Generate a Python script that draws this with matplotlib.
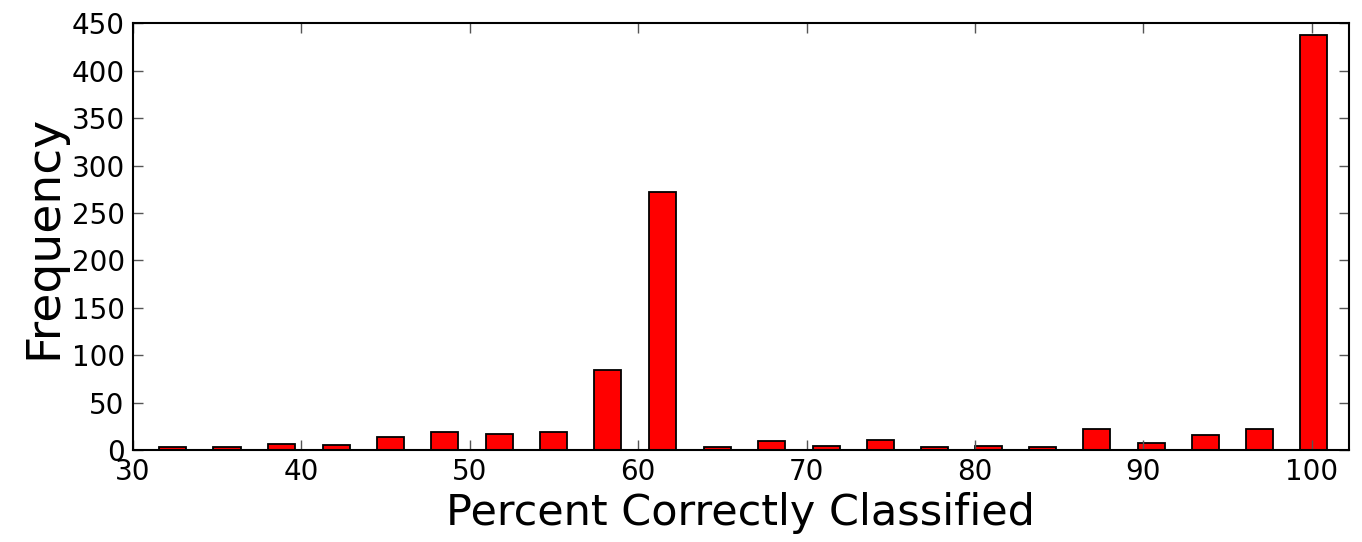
import numpy as np
import matplotlib
matplotlib.use("Agg")
import matplotlib.pyplot as plt

# bin centers (percent correctly classified)
bin_centers = [32.36, 35.58, 38.83, 42.06, 45.27, 48.49, 51.74, 54.97, 58.20, 61.44, 64.69,
               67.91, 71.16, 74.40, 77.60, 80.79, 84.02, 87.24, 90.49, 93.71, 96.92, 100.11]
# counts per bin
frequency = [3, 3, 6, 5, 14, 19, 17, 19, 84, 272, 3,
             10, 4, 11, 3, 4, 3, 22, 7, 16, 22, 438]

bin_width = 3.226
bar_frac = 0.5

fig = plt.figure(figsize=(13.62, 5.42), dpi=100)
ax = fig.add_axes([0.0977, 0.1697, 0.8926, 0.7873])

ax.bar(bin_centers, frequency, width=bin_width * bar_frac, color="#ff0000",
       edgecolor="black", linewidth=1.3, align="center")

ax.set_xlim(30, 102.2)
ax.set_ylim(0, 450)
ax.set_xticks(np.arange(30, 101, 10))
ax.set_yticks(np.arange(0, 451, 50))

ax.tick_params(direction="in", length=7, width=1, top=True, right=True,
               labelsize=20, pad=6, color="#555555")
for s in ax.spines.values():
    s.set_linewidth(1.5)

ax.set_xlabel("Percent Correctly Classified", fontsize=31, labelpad=4)
ax.set_ylabel("Frequency", fontsize=34, labelpad=4)

fig.savefig("out.png", dpi=100)
